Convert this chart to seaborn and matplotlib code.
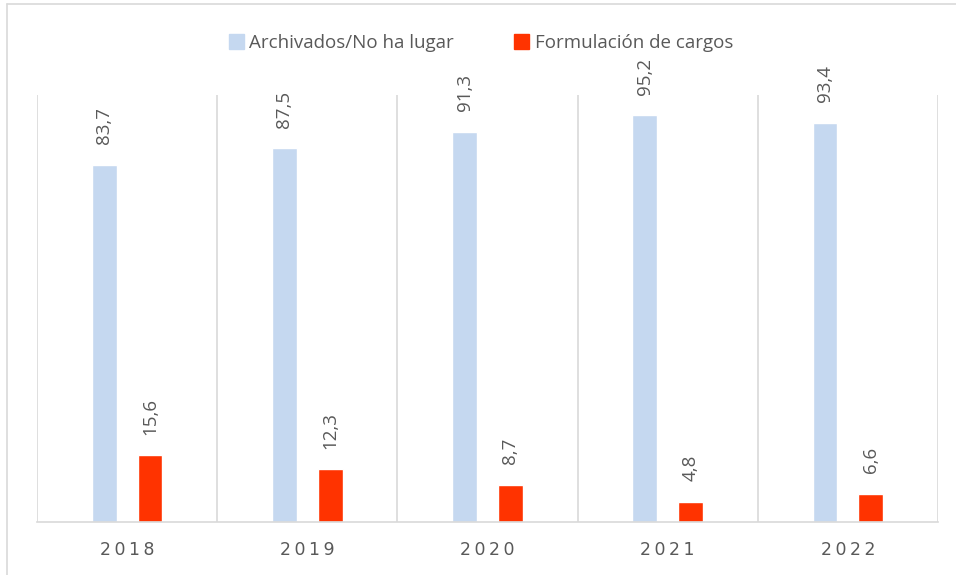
import matplotlib
matplotlib.use("Agg")
import matplotlib.pyplot as plt
from matplotlib.lines import Line2D
import seaborn as sns
import pandas as pd

years = ["2018", "2019", "2020", "2021", "2022"]
archivados = [83.7, 87.5, 91.3, 95.2, 93.4]
formulacion = [15.6, 12.3, 8.7, 4.8, 6.6]
series_names = ["Archivados/No ha lugar", "Formulación de cargos"]
colors = ["#C5D8F0", "#FF3300"]

df = pd.DataFrame({
    "year": years * 2,
    "value": archivados + formulacion,
    "serie": [series_names[0]] * len(years) + [series_names[1]] * len(years),
})

sns.set_style("white")
plt.rcParams["font.family"] = ["Open Sans", "DejaVu Sans"]

fig = plt.figure(figsize=(9.56, 5.75), dpi=100)
ax = fig.add_axes([37 / 956, 53 / 575, 901 / 956, 427 / 575])

sns.barplot(data=df, x="year", y="value", hue="serie", order=years,
            hue_order=series_names, palette=colors, width=0.51, gap=0.46,
            ax=ax, legend=False, saturation=1)

ax.set_ylim(0, 100)
ax.set_xlim(-0.5, len(years) - 0.5)
ax.set_xlabel("")
ax.set_ylabel("")
ax.set_yticks([])

# category separators
ax.set_xticks([i + 0.5 for i in range(-1, len(years))], minor=True)
ax.grid(True, which="minor", axis="x", color="#D9D9D9", linewidth=1.2)
ax.grid(False, which="major")
ax.tick_params(axis="x", which="both", length=0)
ax.set_xticks(range(len(years)))
ax.set_xticklabels(["\u2009".join(y) for y in years], fontsize=12.5,
                   color="#595959", family=["DejaVu Sans"])
ax.tick_params(axis="x", pad=14)

for s in ["top", "right", "left"]:
    ax.spines[s].set_visible(False)
ax.spines["bottom"].set_color("#D9D9D9")
ax.spines["bottom"].set_linewidth(1.2)

for cont in ax.containers:
    labels = [f"{v:.1f}".replace(".", ",") for v in cont.datavalues]
    ax.bar_label(cont, labels=labels, rotation=90, padding=15,
                 fontsize=13.5, color="#595959")

handles = [plt.Rectangle((0, 0), 1, 1, color=c) for c in colors]
fig.legend(handles, series_names, loc="center", bbox_to_anchor=(481 / 956, 1 - 43 / 575),
           ncol=2, frameon=False, fontsize=13.5, labelcolor="#595959",
           handlelength=0.8, handleheight=0.8, handletextpad=0.3, columnspacing=3.2)

fig.add_artist(Line2D([7 / 956, 1], [1 - 4 / 575, 1 - 4 / 575], color="#D9D9D9", lw=1.2,
                      transform=fig.transFigure))
fig.add_artist(Line2D([7 / 956, 7 / 956], [0, 1 - 4 / 575], color="#D9D9D9", lw=1.2,
                      transform=fig.transFigure))

fig.savefig("out.png", dpi=100)
